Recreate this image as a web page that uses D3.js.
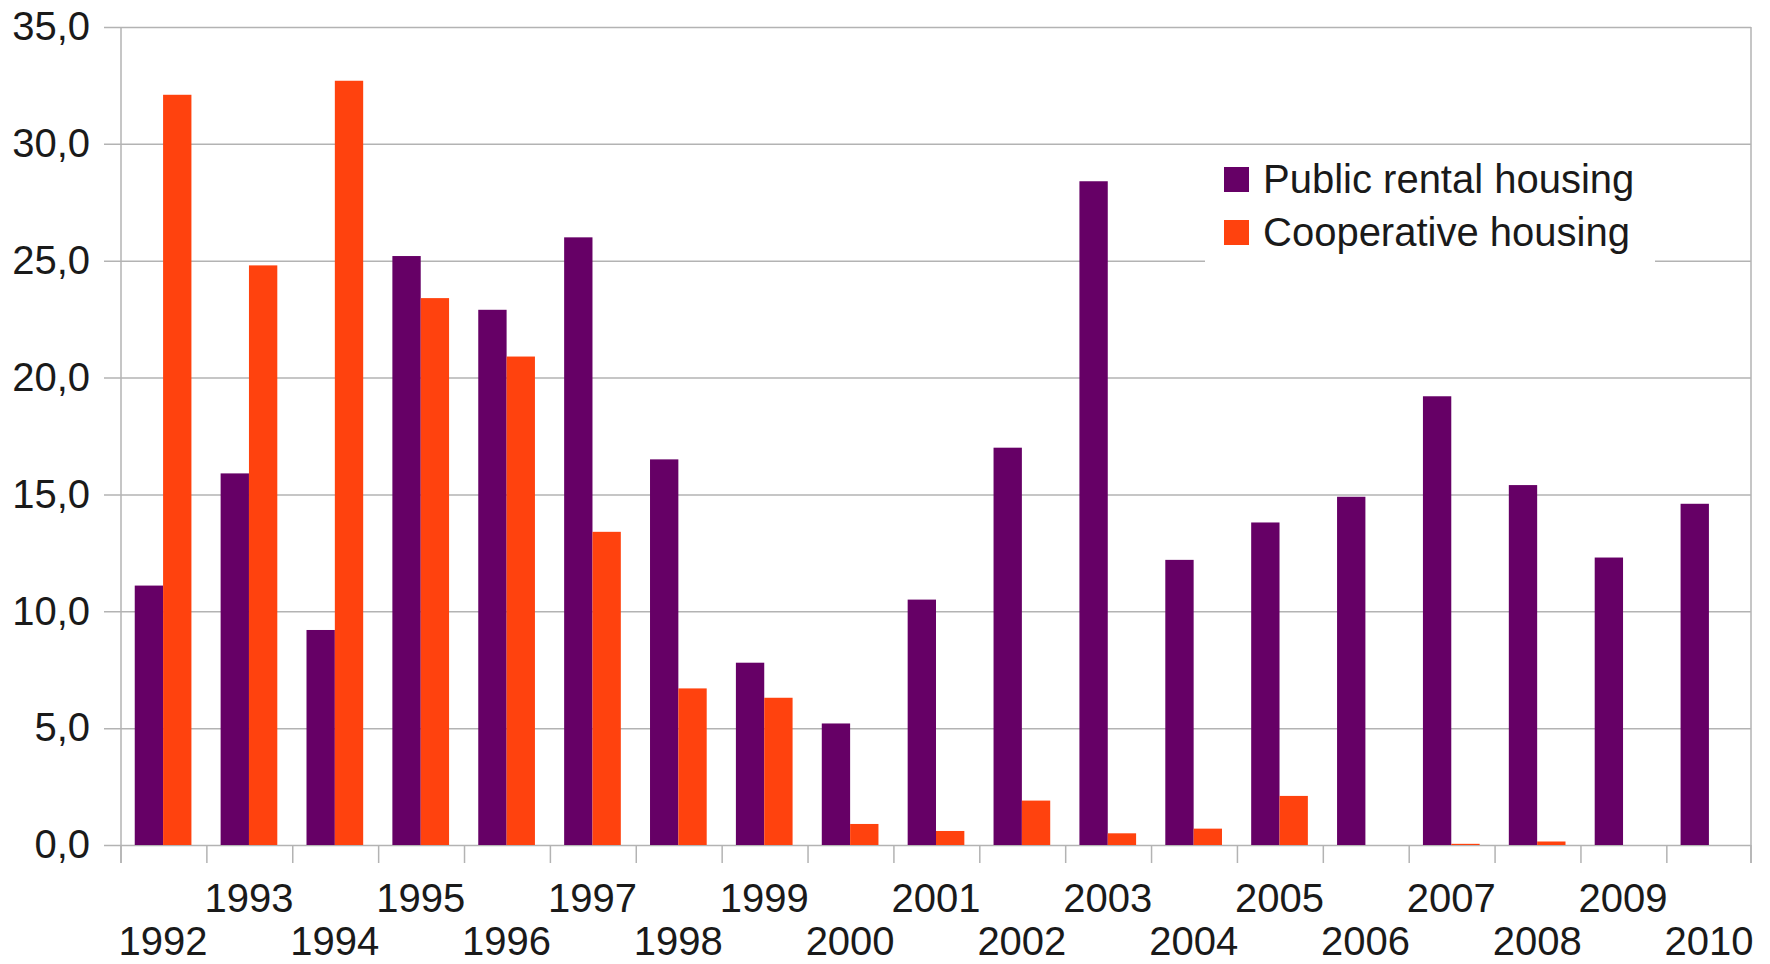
<!DOCTYPE html>
<html>
<head>
<meta charset="utf-8">
<script src="https://cdn.jsdelivr.net/npm/d3@7"></script>
<style>
  html, body { margin: 0; padding: 0; background: #fff; }
  svg { display: block; font-family: "Liberation Sans", Arial, sans-serif; }
</style>
</head>
<body>
<script>
// Data
const years = ['1992', '1993', '1994', '1995', '1996', '1997', '1998', '1999', '2000', '2001',
  '2002', '2003', '2004', '2005', '2006', '2007', '2008', '2009', '2010'];
const seriesNames = ['Public rental housing', 'Cooperative housing'];
const publicRental = [11.1, 15.9, 9.2, 25.2, 22.9, 26.0, 16.5, 7.8, 5.2, 10.5,
  17.0, 28.4, 12.2, 13.8, 14.9, 19.2, 15.4, 12.3, 14.6];
const cooperative = [32.1, 24.8, 32.7, 23.4, 20.9, 13.4, 6.7, 6.3, 0.9, 0.6,
  1.9, 0.5, 0.7, 2.1, 0, 0.05, 0.15, 0, 0];
const yTicks = [0, 5, 10, 15, 20, 25, 30, 35];

// Layout
const width = 1770;
const height = 964;
const margin = { top: 27, right: 19, bottom: 119, left: 121 };
const plotRight = width - margin.right;
const plotBottom = height - margin.bottom;
const colors = ['#660066', '#ff420e'];
const gridColor = '#b3b3b3';
const textColor = '#1a1a1a';

const table = years.map((y, i) => ({ year: y, values: [publicRental[i], cooperative[i]] }));

const svg = d3.select('body')
  .append('svg')
  .attr('width', width)
  .attr('height', height);

// Scales
const x0 = d3.scaleBand()
  .domain(years)
  .range([margin.left, plotRight])
  .paddingInner(0.34)
  .paddingOuter(0.16);

const x1 = d3.scaleBand()
  .domain([0, 1])
  .range([0, x0.bandwidth()]);

const y = d3.scaleLinear()
  .domain([0, 35])
  .range([plotBottom, margin.top]);

const fmt = d3.formatLocale({ decimal: ',', thousands: '.', grouping: [3], currency: ['', ''] }).format('.1f');

// Y gridlines + labels
const tickOut = 17;
const yAxis = d3.axisLeft(y)
  .tickValues(yTicks)
  .tickSize(-(plotRight - margin.left + tickOut))
  .tickPadding(14)
  .tickFormat(fmt);

const gy = svg.append('g')
  .attr('transform', `translate(${margin.left - tickOut},0)`)
  .call(yAxis);
gy.select('.domain').remove();
gy.selectAll('.tick line').attr('stroke', gridColor).attr('stroke-width', 1.5);
gy.selectAll('.tick text')
  .attr('fill', textColor)
  .style('font-size', '40px');

// Legend background hides the grid behind it
const legend = svg.append('g');
legend.append('rect')
  .attr('x', 1205)
  .attr('y', 152)
  .attr('width', 450)
  .attr('height', 116)
  .attr('fill', '#fff');

// Y axis line and x axis with boundary ticks
svg.append('line')
  .attr('x1', margin.left).attr('x2', margin.left)
  .attr('y1', margin.top).attr('y2', plotBottom + 18)
  .attr('stroke', gridColor).attr('stroke-width', 1.5);

svg.append('line')
  .attr('x1', plotRight).attr('x2', plotRight)
  .attr('y1', margin.top).attr('y2', plotBottom + 18)
  .attr('stroke', gridColor).attr('stroke-width', 1.5);

const boundaries = years.map(d => x0(d) - x0.step() * x0.paddingOuter()).concat([plotRight]);
svg.append('g')
  .selectAll('line')
  .data(boundaries)
  .enter()
  .append('line')
  .attr('x1', d => d).attr('x2', d => d)
  .attr('y1', plotBottom).attr('y2', plotBottom + 18)
  .attr('stroke', gridColor).attr('stroke-width', 1.5);

// Bars
const groups = svg.append('g')
  .selectAll('g')
  .data(table)
  .enter()
  .append('g')
  .attr('transform', d => `translate(${x0(d.year)},0)`);

groups.selectAll('rect')
  .data(d => d.values.map((v, k) => ({ k, v })))
  .enter()
  .append('rect')
  .attr('x', d => x1(d.k))
  .attr('y', d => y(d.v))
  .attr('width', x1.bandwidth())
  .attr('height', d => y(0) - y(d.v))
  .attr('fill', d => colors[d.k]);

// X labels, staggered on two rows
svg.append('g')
  .selectAll('text')
  .data(years)
  .enter()
  .append('text')
  .attr('x', d => x0(d) + x0.bandwidth() / 2)
  .attr('y', (d, i) => i % 2 === 0 ? 955 : 912)
  .attr('text-anchor', 'middle')
  .attr('fill', textColor)
  .style('font-size', '40px')
  .text(d => d);

// Legend entries
const items = legend.selectAll('.item')
  .data(seriesNames)
  .enter()
  .append('g')
  .attr('class', 'item')
  .attr('transform', (d, i) => `translate(1224, ${167 + i * 53})`);

items.append('rect')
  .attr('width', 25)
  .attr('height', 25)
  .attr('fill', (d, i) => colors[i]);

items.append('text')
  .attr('x', 39)
  .attr('y', 26)
  .attr('fill', textColor)
  .style('font-size', '40px')
  .text(d => d);
</script>
</body>
</html>
